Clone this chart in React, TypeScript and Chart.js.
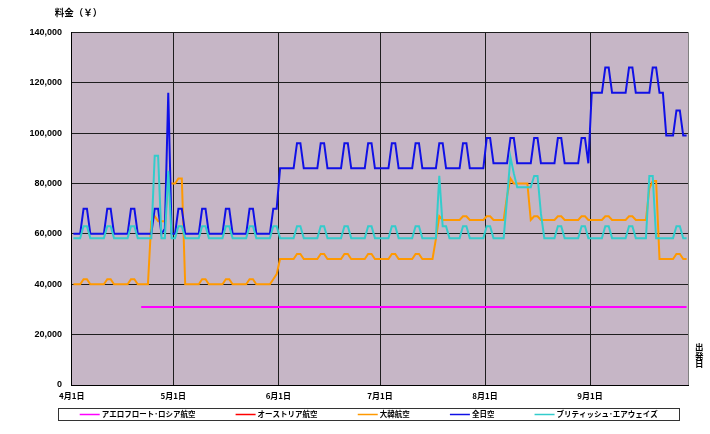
import React, { useEffect, useRef } from 'react';
import { Chart, registerables } from 'chart.js';

Chart.register(...registerables);

// ---- data (departure day index 0 = 4月1日, daily fares in yen) ----
const airlines = [
  'アエロフロート･ロシア航空',
  'オーストリア航空',
  '大韓航空',
  '全日空',
  'ブリティッシュ･エアウェイズ',
];
const lineColors = ['#ff00ff', '#ff0000', '#ff9900', '#1010e6', '#33cccc'];

const monthStartDays = [0, 30, 61, 91, 122, 153];
const monthLabels = ['4月1日', '5月1日', '6月1日', '7月1日', '8月1日', '9月1日'];
const lastDay = 182;

const yMax = 140000;
const yStep = 20000;

const N = null;
const aeroflot: (number | null)[] = [
  N, N, N, N, N, N, N,
  N, N, N, N, N, N, N,
  N, N, N, N, N, N, 31000,
  31000, 31000, 31000, 31000, 31000, 31000, 31000,
  31000, 31000, 31000, 31000, 31000, 31000, 31000,
  31000, 31000, 31000, 31000, 31000, 31000, 31000,
  31000, 31000, 31000, 31000, 31000, 31000, 31000,
  31000, 31000, 31000, 31000, 31000, 31000, 31000,
  31000, 31000, 31000, 31000, 31000, 31000, 31000,
  31000, 31000, 31000, 31000, 31000, 31000, 31000,
  31000, 31000, 31000, 31000, 31000, 31000, 31000,
  31000, 31000, 31000, 31000, 31000, 31000, 31000,
  31000, 31000, 31000, 31000, 31000, 31000, 31000,
  31000, 31000, 31000, 31000, 31000, 31000, 31000,
  31000, 31000, 31000, 31000, 31000, 31000, 31000,
  31000, 31000, 31000, 31000, 31000, 31000, 31000,
  31000, 31000, 31000, 31000, 31000, 31000, 31000,
  31000, 31000, 31000, 31000, 31000, 31000, 31000,
  31000, 31000, 31000, 31000, 31000, 31000, 31000,
  31000, 31000, 31000, 31000, 31000, 31000, 31000,
  31000, 31000, 31000, 31000, 31000, 31000, 31000,
  31000, 31000, 31000, 31000, 31000, 31000, 31000,
  31000, 31000, 31000, 31000, 31000, 31000, 31000,
  31000, 31000, 31000, 31000, 31000, 31000, 31000,
  31000, 31000, 31000, 31000, 31000, 31000, 31000,
  31000, 31000, 31000, 31000, 31000, 31000, 31000,
];

const austrian: (number | null)[] = [];

const korean: (number | null)[] = [
  40000, 40000, 40000, 42000, 42000, 40000, 40000,
  40000, 40000, 40000, 42000, 42000, 40000, 40000,
  40000, 40000, 40000, 42000, 42000, 40000, 40000,
  40000, 40000, 65000, 67000, 65000, 65000, 65000,
  80000, 80000, 80000, 82000, 82000, 40000, 40000,
  40000, 40000, 40000, 42000, 42000, 40000, 40000,
  40000, 40000, 40000, 42000, 42000, 40000, 40000,
  40000, 40000, 40000, 42000, 42000, 40000, 40000,
  40000, 40000, 40000, 42000, 44000, 50000, 50000,
  50000, 50000, 50000, 52000, 52000, 50000, 50000,
  50000, 50000, 50000, 52000, 52000, 50000, 50000,
  50000, 50000, 50000, 52000, 52000, 50000, 50000,
  50000, 50000, 50000, 52000, 52000, 50000, 50000,
  50000, 50000, 50000, 52000, 52000, 50000, 50000,
  50000, 50000, 50000, 52000, 52000, 50000, 50000,
  50000, 50000, 58000, 67000, 65500, 65500, 65500,
  65500, 65500, 65500, 67000, 67000, 65500, 65500,
  65500, 65500, 65500, 67000, 67000, 65500, 65500,
  65500, 65500, 75000, 82000, 80000, 80000, 80000,
  80000, 80000, 65500, 67000, 67000, 65500, 65500,
  65500, 65500, 65500, 67000, 67000, 65500, 65500,
  65500, 65500, 65500, 67000, 67000, 65500, 65500,
  65500, 65500, 65500, 67000, 67000, 65500, 65500,
  65500, 65500, 65500, 67000, 67000, 65500, 65500,
  65500, 65500, 78000, 81000, 81000, 50000, 50000,
  50000, 50000, 50000, 52000, 52000, 50000, 50000,
];

const ana: (number | null)[] = [
  60000, 60000, 60000, 70000, 70000, 60000, 60000,
  60000, 60000, 60000, 70000, 70000, 60000, 60000,
  60000, 60000, 60000, 70000, 70000, 60000, 60000,
  60000, 60000, 60000, 70000, 70000, 60000, 62000,
  116000, 60000, 60000, 70000, 70000, 60000, 60000,
  60000, 60000, 60000, 70000, 70000, 60000, 60000,
  60000, 60000, 60000, 70000, 70000, 60000, 60000,
  60000, 60000, 60000, 70000, 70000, 60000, 60000,
  60000, 60000, 60000, 70000, 70000, 86000, 86000,
  86000, 86000, 86000, 96000, 96000, 86000, 86000,
  86000, 86000, 86000, 96000, 96000, 86000, 86000,
  86000, 86000, 86000, 96000, 96000, 86000, 86000,
  86000, 86000, 86000, 96000, 96000, 86000, 86000,
  86000, 86000, 86000, 96000, 96000, 86000, 86000,
  86000, 86000, 86000, 96000, 96000, 86000, 86000,
  86000, 86000, 86000, 96000, 96000, 86000, 86000,
  86000, 86000, 86000, 96000, 96000, 86000, 86000,
  86000, 86000, 86000, 98000, 98000, 88000, 88000,
  88000, 88000, 88000, 98000, 98000, 88000, 88000,
  88000, 88000, 88000, 98000, 98000, 88000, 88000,
  88000, 88000, 88000, 98000, 98000, 88000, 88000,
  88000, 88000, 88000, 98000, 98000, 88000, 116000,
  116000, 116000, 116000, 126000, 126000, 116000, 116000,
  116000, 116000, 116000, 126000, 126000, 116000, 116000,
  116000, 116000, 116000, 126000, 126000, 116000, 116000,
  99000, 99000, 99000, 109000, 109000, 99000, 99000,
];

const british: (number | null)[] = [
  58300, 58300, 58300, 63000, 63000, 58300, 58300,
  58300, 58300, 58300, 63000, 63000, 58300, 58300,
  58300, 58300, 58300, 63000, 63000, 58300, 58300,
  58300, 58300, 58300, 91000, 91000, 58300, 58300,
  85000, 58300, 58300, 63000, 63000, 58300, 58300,
  58300, 58300, 58300, 63000, 63000, 58300, 58300,
  58300, 58300, 58300, 63000, 63000, 58300, 58300,
  58300, 58300, 58300, 63000, 63000, 58300, 58300,
  58300, 58300, 58300, 63000, 63000, 58300, 58300,
  58300, 58300, 58300, 63000, 63000, 58300, 58300,
  58300, 58300, 58300, 63000, 63000, 58300, 58300,
  58300, 58300, 58300, 63000, 63000, 58300, 58300,
  58300, 58300, 58300, 63000, 63000, 58300, 58300,
  58300, 58300, 58300, 63000, 63000, 58300, 58300,
  58300, 58300, 58300, 63000, 63000, 58300, 58300,
  58300, 58300, 58300, 83000, 63000, 63000, 58300,
  58300, 58300, 58300, 63000, 63000, 58300, 58300,
  58300, 58300, 58300, 63000, 63000, 58300, 58300,
  58300, 58300, 74000, 90500, 84000, 78500, 78500,
  78500, 78500, 78500, 83000, 83000, 68000, 58300,
  58300, 58300, 58300, 63000, 63000, 58300, 58300,
  58300, 58300, 58300, 63000, 63000, 58300, 58300,
  58300, 58300, 58300, 63000, 63000, 58300, 58300,
  58300, 58300, 58300, 63000, 63000, 58300, 58300,
  58300, 58300, 83000, 83000, 58300, 58300, 58300,
  58300, 58300, 58300, 63000, 63000, 58300, 58300,
];

const seriesValues = [aeroflot, austrian, korean, ana, british];

// ---- plugins ----
const decorPlugin = {
  id: 'decor',
  beforeDraw(chart: any) {
    const { ctx, chartArea: ca } = chart;
    ctx.save();
    ctx.fillStyle = '#c6b6c6';
    ctx.fillRect(ca.left, ca.top, ca.right - ca.left, ca.bottom - ca.top);
    ctx.restore();
  },
  beforeDatasetsDraw(chart: any) {
    const { ctx, chartArea: ca } = chart;
    ctx.save();
    ctx.strokeStyle = '#808080';
    ctx.lineWidth = 1;
    ctx.beginPath();
    ctx.moveTo(Math.round(ca.right) + 0.5, ca.top);
    ctx.lineTo(Math.round(ca.right) + 0.5, ca.bottom);
    ctx.stroke();
    ctx.restore();
  },
  afterDraw(chart: any) {
    const { ctx, chartArea: ca } = chart;
    ctx.save();
    // axis titles
    ctx.fillStyle = '#000';
    ctx.textBaseline = 'middle';
    ctx.textAlign = 'left';
    ctx.font = 'bold 9.5px "Noto Sans CJK JP"';
    ctx.fillText('料金（￥）', ca.left - 17, 12.5);
    ctx.textAlign = 'center';
    ctx.font = 'bold 8.5px "Noto Sans CJK JP"';
    const vt = '出発日';
    for (let i = 0; i < vt.length; i++) {
      ctx.fillText(vt[i], ca.right + 11, 347 + i * 8.5);
    }

    // legend box
    const boxL = ca.left - 14;
    const boxR = ca.right - 9.5;
    const boxT = 408.5;
    const boxB = 420.5;
    const cy = (boxT + boxB) / 2;
    ctx.strokeStyle = '#333';
    ctx.lineWidth = 1;
    ctx.strokeRect(Math.round(boxL) + 0.5, boxT, Math.round(boxR - boxL), boxB - boxT);

    ctx.font = 'bold 7.5px "Noto Sans CJK JP"';
    ctx.textAlign = 'left';
    const sample = 20;
    const gapText = 2;
    const ds = chart.data.datasets;
    const widths = ds.map((d: any) => sample + gapText + ctx.measureText(d.label).width);
    const innerL = boxL + 22;
    const innerR = boxR - 21;
    const total = widths.reduce((a: number, b: number) => a + b, 0);
    const gap = (innerR - innerL - total) / (ds.length - 1);
    let x = innerL;
    ds.forEach((d: any, i: number) => {
      ctx.strokeStyle = d.borderColor;
      ctx.lineWidth = 1.5;
      ctx.beginPath();
      ctx.moveTo(x, cy);
      ctx.lineTo(x + sample, cy);
      ctx.stroke();
      ctx.fillStyle = '#000';
      ctx.fillText(d.label, x + sample + gapText, cy);
      x += widths[i] + gap;
    });
    ctx.restore();
  },
};

export default function App() {
  const ref = useRef<HTMLCanvasElement | null>(null);

  useEffect(() => {
    if (!ref.current) return;
    const datasets = airlines.map((name, k) => ({
      label: name,
      data: seriesValues[k].map((v, i) => ({ x: i + 0.5, y: v })),
      borderColor: lineColors[k],
      backgroundColor: lineColors[k],
      borderWidth: 2,
      pointRadius: 0,
      tension: 0,
      spanGaps: false,
      order: airlines.length - k,
    }));

    const chart = new Chart(ref.current, {
      type: 'line',
      data: { datasets },
      options: {
        animation: false,
        responsive: false,
        maintainAspectRatio: false,
        layout: { padding: { left: 0, right: 21.7, top: 32.3, bottom: 29 } },
        plugins: {
          legend: { display: false },
          tooltip: { enabled: false },
        },
        scales: {
          x: {
            type: 'linear',
            min: 0,
            max: lastDay,
            afterBuildTicks: (scale: any) => {
              scale.ticks = monthStartDays.map((v) => ({ value: v }));
            },
            afterFit: (scale: any) => {
              scale.height = 20;
            },
            grid: { color: '#1e1e1e', lineWidth: 1, drawTicks: false },
            border: { display: true, color: '#000', width: 1 },
            ticks: {
              autoSkip: false,
              maxRotation: 0,
              minRotation: 0,
              padding: 6,
              color: '#000',
              font: { family: '"Noto Sans CJK JP"', size: 8, weight: 'bold' },
              callback: (v: any) => {
                const i = monthStartDays.indexOf(Number(v));
                return i >= 0 ? monthLabels[i] : '';
              },
            },
          },
          y: {
            min: 0,
            max: yMax,
            afterFit: (scale: any) => {
              scale.width = 71.7;
            },
            grid: { color: '#1e1e1e', lineWidth: 1, drawTicks: false },
            border: { display: true, color: '#000', width: 1 },
            ticks: {
              stepSize: yStep,
              padding: 9.7,
              color: '#000',
              font: { family: '"Liberation Sans", Arial', size: 9, weight: 'bold' },
              callback: (v: any) => Number(v).toLocaleString('en-US'),
            },
          },
        },
      },
      plugins: [decorPlugin],
    } as any);
    return () => chart.destroy();
  }, []);

  return (
    <div style={{ position: 'fixed', left: 0, top: 0, width: 710, height: 434, background: '#fff' }}>
      <canvas ref={ref} width={710} height={434} style={{ display: 'block', width: 710, height: 434 }} />
    </div>
  );
}
